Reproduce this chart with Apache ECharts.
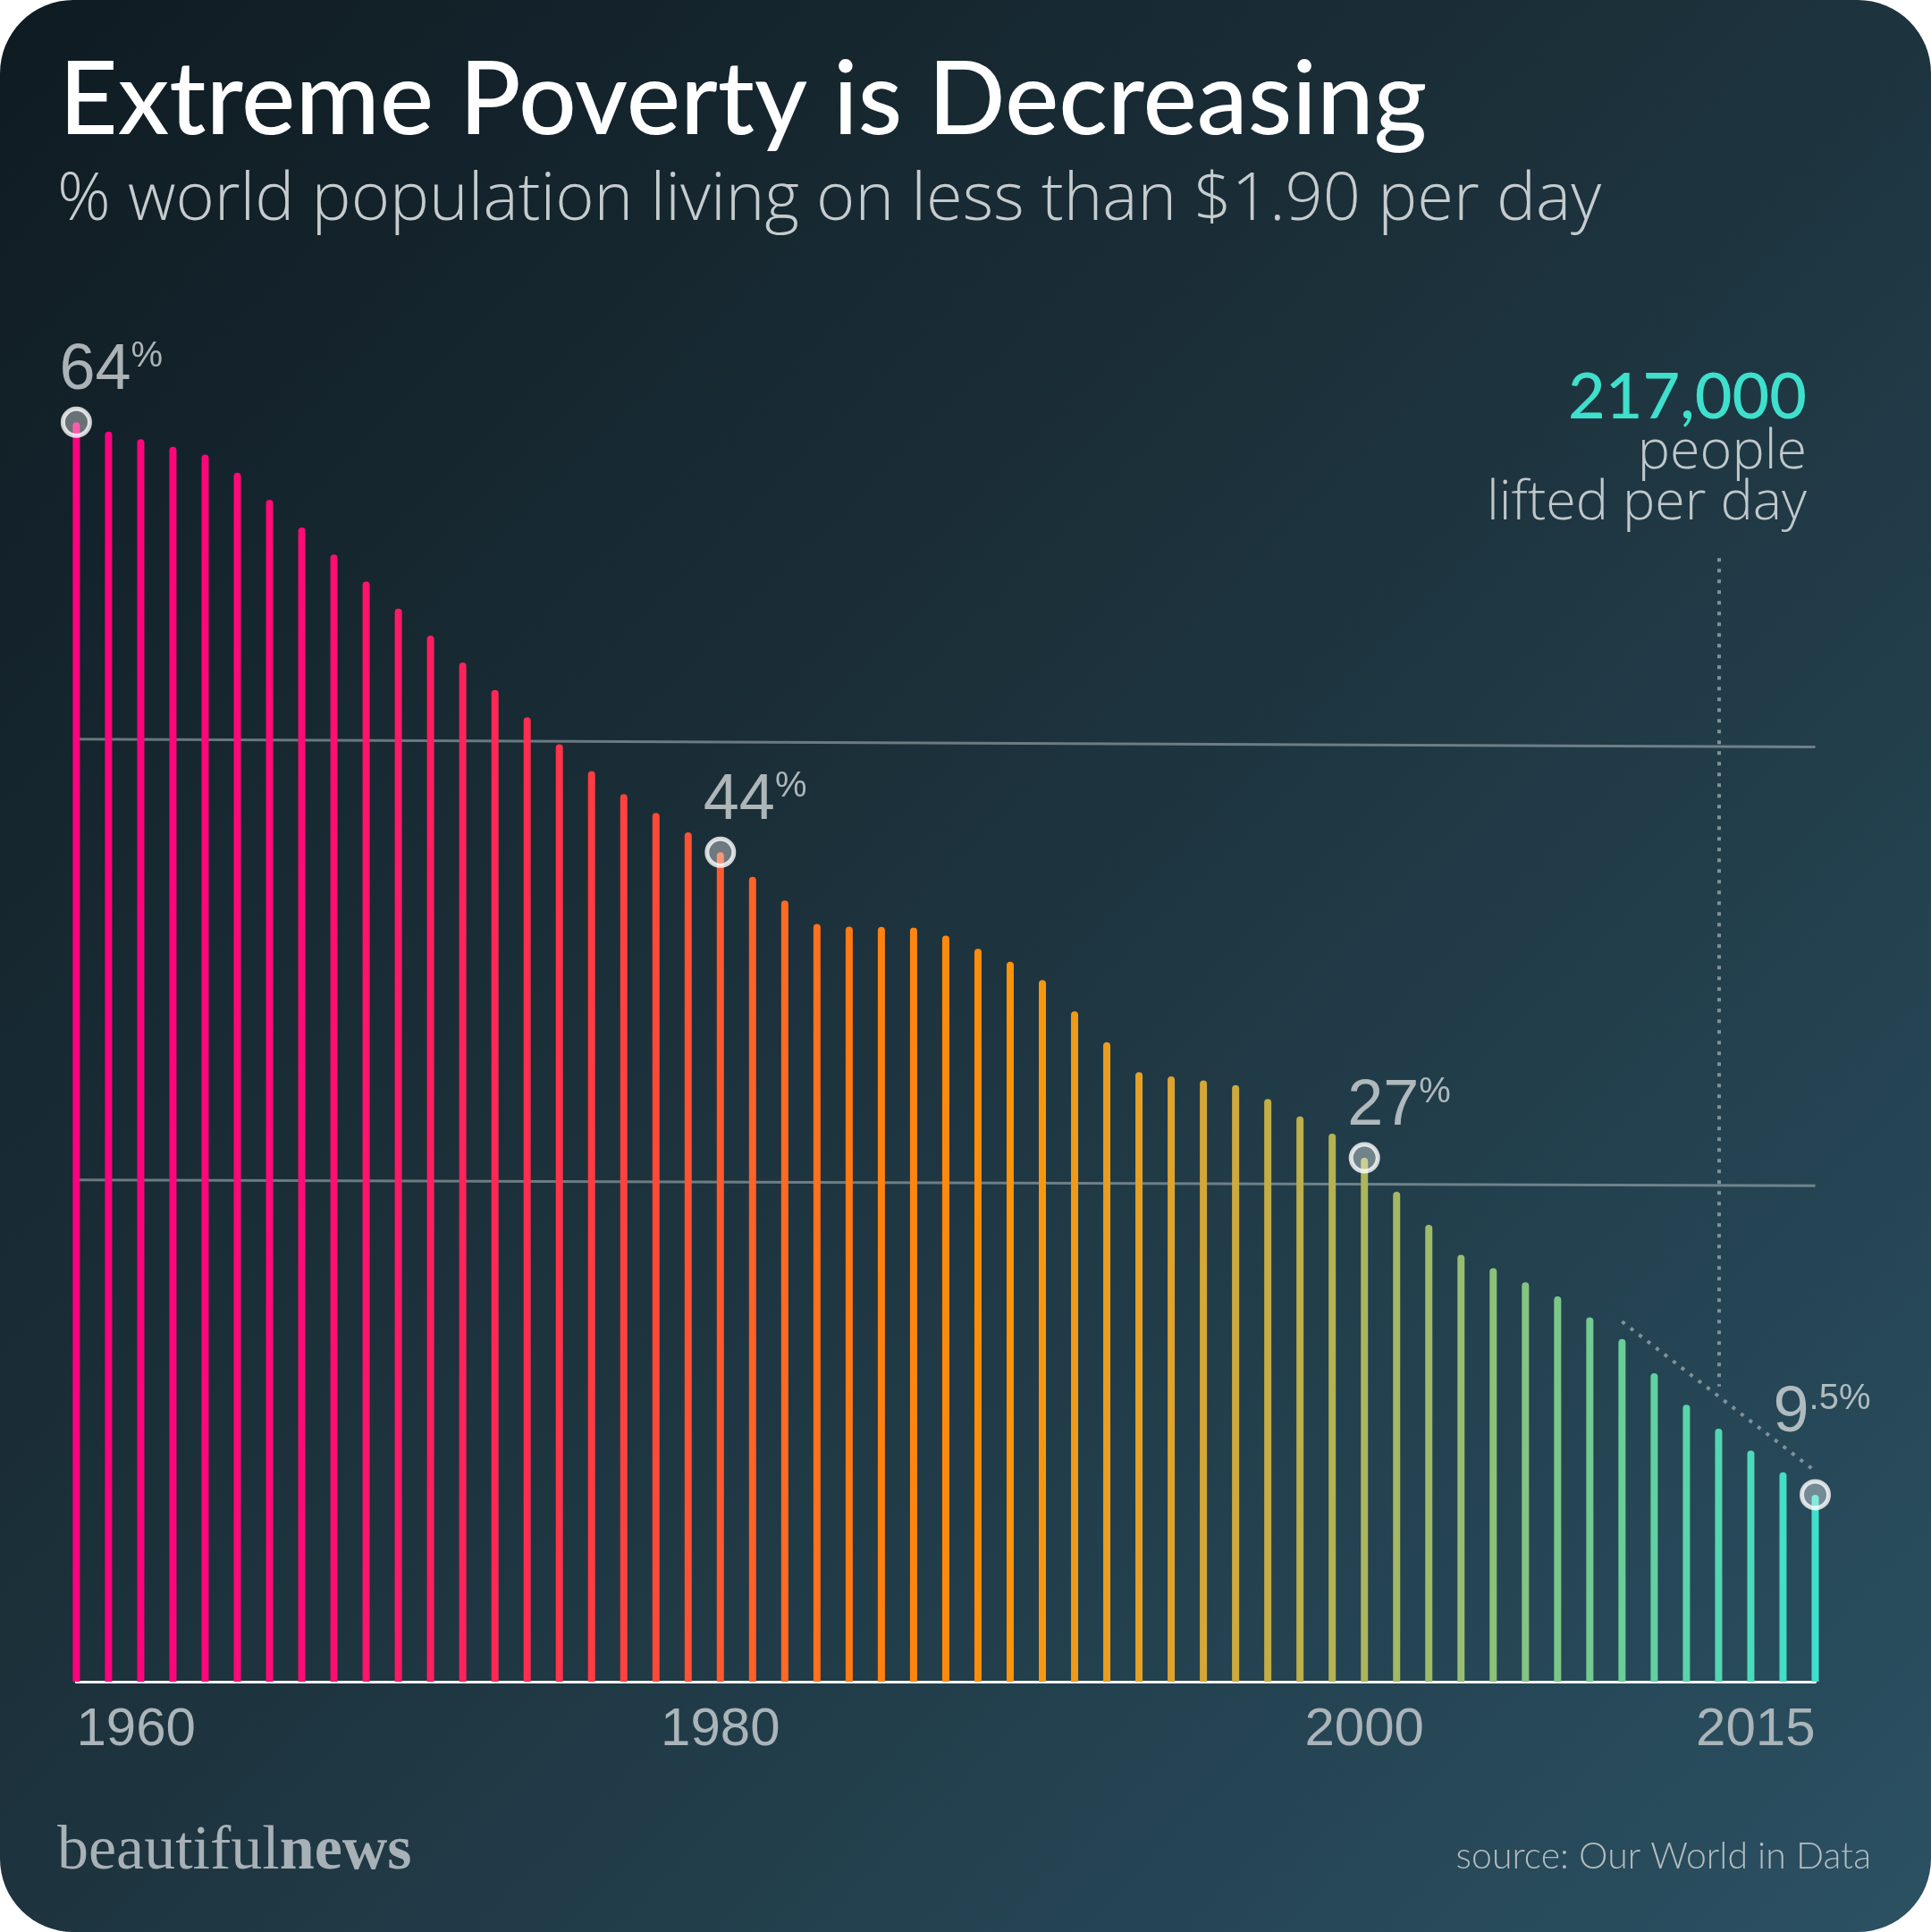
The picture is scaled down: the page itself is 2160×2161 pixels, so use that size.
<!DOCTYPE html>
<html>
<head>
<meta charset="utf-8">
<script src="https://cdn.jsdelivr.net/npm/echarts@6/dist/echarts.min.js"></script>
<style>
  html, body { margin: 0; padding: 0; background: #ffffff; }
  #chart {
    width: 2160px; height: 2161px; border-radius: 82px; overflow: hidden;
    background: linear-gradient(135deg, #0f1b22 0%, #1c313b 45%, #2b5163 100%);
  }
</style>
</head>
<body>
<div id="chart"></div>
<script>
// ---------- data ----------
const years = [];
for (let y = 1960; y <= 2013; y++) years.push(String(y));
years.push('2015');

const povertyPct = [
  64.0, 63.53, 63.14, 62.76, 62.36, 61.44, 60.06, 58.66, 57.28, 55.91,
  54.53, 53.16, 51.79, 50.40, 49.01, 47.64, 46.27, 45.10, 44.15, 43.16,
  42.15, 40.90, 39.70, 38.50, 38.37, 38.36, 38.32, 37.92, 37.25, 36.59,
  35.65, 34.06, 32.50, 30.97, 30.76, 30.55, 30.32, 29.61, 28.73, 27.85,
  26.62, 24.90, 23.22, 21.69, 21.01, 20.30, 19.58, 18.51, 17.41, 15.67,
  14.07, 12.86, 11.74, 10.64, 9.50
];

const axisTickYears = ['1960', '1980', '2000', '2015'];

const highlightYears = ['1960', '1980', '2000', '2015'];
const highlightMain = ['64', '44', '27', '9'];
const highlightSup = ['%', '%', '%', '.5%'];

// guide lines (value at start year, value at end year)
const guideLevels = [[47.9, 47.5], [25.5, 25.2]];
// dotted trend line and vertical pointer
const trendFrom = ['2008', 18.3];
const trendTo = ['2015', 10.7];
const pointerYear = '2011';
const pointerTop = 57.1;
const pointerBottom = 15.0;

// ---------- styling helpers ----------
const colorStops = [
  [0.00, [255, 0, 128]],
  [0.14, [255, 12, 116]],
  [0.27, [255, 48, 76]],
  [0.36, [255, 84, 48]],
  [0.46, [255, 128, 16]],
  [0.55, [250, 150, 10]],
  [0.63, [222, 164, 48]],
  [0.72, [182, 178, 82]],
  [0.80, [148, 190, 114]],
  [0.89, [104, 206, 152]],
  [1.00, [62, 224, 204]]
];
function barColor(i) {
  const t = i / (povertyPct.length - 1);
  for (let k = 1; k < colorStops.length; k++) {
    if (t <= colorStops[k][0]) {
      const a = colorStops[k - 1], b = colorStops[k];
      const f = (t - a[0]) / (b[0] - a[0]);
      const c = a[1].map((v, j) => Math.round(v + (b[1][j] - v) * f));
      return 'rgb(' + c.join(',') + ')';
    }
  }
  return 'rgb(62,224,204)';
}

const LATO = 'Lato, "Noto Sans", sans-serif';
const OPEN = '"Open Sans", Lato, sans-serif';
const NUM = '"Liberation Sans", Arial, sans-serif';

const chart = echarts.init(document.getElementById('chart'), null, { renderer: 'canvas' });

const highlightData = highlightYears.map((y, i) => {
  const last = i === highlightYears.length - 1;
  return {
    value: [y, povertyPct[years.indexOf(y)]],
    label: {
      show: true,
      position: last ? [-29.5, -37] : [-1.5, -3.5],
      align: 'left',
      verticalAlign: 'bottom',
      formatter: '{m|' + highlightMain[i] + '}{s|' + highlightSup[i] + '}',
      rich: {
        m: { fontFamily: NUM, fontSize: 72, lineHeight: 72, color: '#d3d8da', verticalAlign: 'bottom' },
        s: { fontFamily: NUM, fontSize: 40, lineHeight: 40, color: '#d3d8da', verticalAlign: 'top' }
      }
    }
  };
});

const option = {
  animation: false,
  backgroundColor: 'transparent',
  grid: { left: 85.4, right: 129.5, top: 340.3, bottom: 280, containLabel: false },
  xAxis: {
    type: 'category',
    data: years,
    boundaryGap: false,
    axisLine: { show: true, lineStyle: { color: '#ffffff', width: 3 } },
    axisTick: { show: false },
    splitLine: { show: false },
    axisLabel: {
      interval: (idx, val) => axisTickYears.indexOf(val) >= 0,
      alignMinLabel: 'left',
      alignMaxLabel: 'right',
      margin: 24,
      fontFamily: NUM,
      fontSize: 60,
      color: '#aab4b9'
    }
  },
  yAxis: {
    type: 'value', min: 0, max: 70, show: false,
    splitLine: { show: false }
  },
  series: [
    {
      type: 'bar',
      data: povertyPct,
      barWidth: 8,
      clip: false,
      itemStyle: {
        color: p => barColor(p.dataIndex),
        borderRadius: [4, 4, 0, 0]
      },
      z: 3,
      markLine: {
        silent: true,
        symbol: ['none', 'none'],
        label: { show: false },
        z: 2,
        data: guideLevels.map(g => [
          { coord: [years[0], g[0]], lineStyle: { color: 'rgba(175,185,190,0.55)', width: 3, type: 'solid' } },
          { coord: [years[years.length - 1], g[1]] }
        ]).concat([
          [
            { coord: trendFrom, lineStyle: { color: 'rgba(128,146,154,1)', width: 4, type: [4, 8] } },
            { coord: trendTo }
          ],
          [
            { coord: [pointerYear, pointerTop], lineStyle: { color: 'rgba(128,146,154,1)', width: 4, type: [4, 8] } },
            { coord: [pointerYear, pointerBottom] }
          ]
        ])
      }
    },
    {
      type: 'scatter',
      data: highlightData,
      symbol: 'circle',
      symbolSize: 30,
      z: 5,
      itemStyle: {
        color: 'rgba(255,255,255,0.45)',
        borderColor: '#ffffff',
        borderWidth: 5
      }
    }
  ],
  graphic: [
    {
      type: 'text', x: 66, y: 113, silent: true,
      style: {
        text: 'Extreme Poverty is Decreasing', fill: '#ffffff',
        fontFamily: LATO, fontSize: 114, fontWeight: 500,
        align: 'left', verticalAlign: 'middle', textAlign: 'left', textVerticalAlign: 'middle'
      }
    },
    {
      type: 'text', x: 64, y: 225, silent: true,
      style: {
        text: '% world population living on less than $1.90 per day', fill: '#c5cbce',
        fontFamily: OPEN, fontSize: 74, fontWeight: 300,
        align: 'left', verticalAlign: 'middle', textAlign: 'left', textVerticalAlign: 'middle'
      }
    },
    {
      type: 'text', x: 2021, y: 445, silent: true,
      style: {
        text: '217,000', fill: '#3ee0cc',
        fontFamily: LATO, fontSize: 72, fontWeight: 500,
        align: 'right', verticalAlign: 'middle', textAlign: 'right', textVerticalAlign: 'middle'
      }
    },
    {
      type: 'text', x: 2021, y: 507, silent: true,
      style: {
        text: 'people', fill: '#c0c7ca',
        fontFamily: OPEN, fontSize: 61, fontWeight: 300,
        align: 'right', verticalAlign: 'middle', textAlign: 'right', textVerticalAlign: 'middle'
      }
    },
    {
      type: 'text', x: 2021, y: 564, silent: true,
      style: {
        text: 'lifted per day', fill: '#c0c7ca',
        fontFamily: OPEN, fontSize: 61, fontWeight: 300,
        align: 'right', verticalAlign: 'middle', textAlign: 'right', textVerticalAlign: 'middle'
      }
    },
    {
      type: 'text', x: 64, y: 2072, silent: true,
      style: {
        text: '{a|beautiful}{b|news}',
        rich: {
          a: { fontFamily: '"Liberation Serif", "DejaVu Serif", serif', fontSize: 70, fontWeight: 'normal', fill: '#a7b1b6', color: '#a7b1b6' },
          b: { fontFamily: '"Liberation Serif", "DejaVu Serif", serif', fontSize: 70, fontWeight: 'bold', fill: '#a7b1b6', color: '#a7b1b6' }
        },
        align: 'left', verticalAlign: 'middle', textAlign: 'left', textVerticalAlign: 'middle'
      }
    },
    {
      type: 'text', x: 2093, y: 2077, silent: true,
      style: {
        text: 'source: Our World in Data', fill: '#b4bcc0',
        fontFamily: LATO, fontSize: 41, fontWeight: 300,
        align: 'right', verticalAlign: 'middle', textAlign: 'right', textVerticalAlign: 'middle'
      }
    }
  ]
};

chart.setOption(option);
</script>
</body>
</html>
